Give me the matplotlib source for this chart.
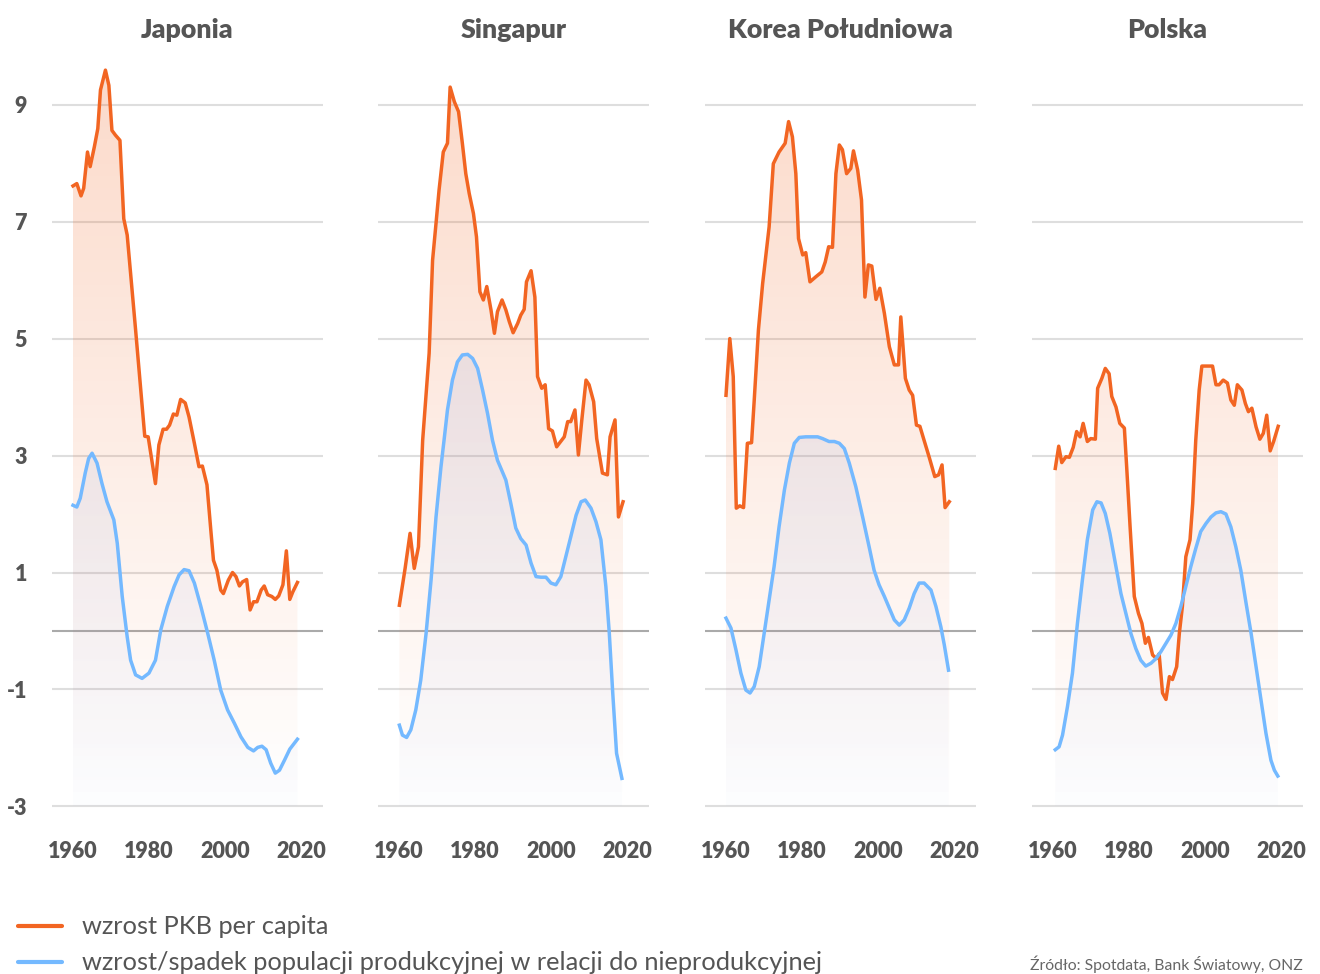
import numpy as np
import matplotlib.pyplot as plt
from matplotlib.lines import Line2D

plt.rcParams['font.family'] = ['Lato', 'DejaVu Sans']
plt.rcParams['axes.unicode_minus'] = False

# Data
countries = ['Japonia', 'Singapur', 'Korea Południowa', 'Polska']

jp_gdp_x = [1960.2, 1961.2, 1962.3, 1963.0, 1964.0, 1964.7, 1965.8, 1966.7, 1967.4, 1968.7,
            1969.6, 1970.4, 1971.3, 1972.5, 1973.5, 1974.4, 1976.6, 1979.0, 1979.9, 1981.8,
            1982.7, 1983.8, 1984.7, 1985.5, 1986.5, 1987.4, 1988.4, 1989.6, 1990.6, 1992.0,
            1993.2, 1994.1, 1995.3, 1996.3, 1997.0, 1997.9, 1998.9, 1999.6, 2000.9, 2002.0,
            2002.9, 2003.8, 2004.6, 2005.7, 2006.6, 2007.5, 2008.4, 2009.5, 2010.3, 2011.2,
            2012.3, 2013.2, 2014.1, 2015.2, 2016.1, 2017.0, 2017.8, 2019.0]
jp_gdp = [7.61, 7.65, 7.44, 7.57, 8.19, 7.94, 8.28, 8.59, 9.25, 9.59,
          9.33, 8.56, 8.48, 8.39, 7.05, 6.77, 5.15, 3.33, 3.32, 2.52,
          3.18, 3.45, 3.45, 3.52, 3.71, 3.69, 3.96, 3.90, 3.66, 3.21,
          2.81, 2.82, 2.50, 1.73, 1.21, 1.04, 0.70, 0.64, 0.87, 1.00,
          0.93, 0.77, 0.84, 0.88, 0.36, 0.50, 0.50, 0.70, 0.77, 0.62,
          0.59, 0.54, 0.60, 0.79, 1.37, 0.54, 0.67, 0.83]
jp_pop_x = [1960.2, 1961.2, 1962.1, 1963.4, 1964.3, 1965.2, 1966.5, 1967.8, 1969.1, 1970.9,
            1971.8, 1973.1, 1974.4, 1975.3, 1976.6, 1978.3, 1980.1, 1981.8, 1983.2, 1984.9,
            1986.7, 1988.0, 1989.3, 1990.6, 1992.0, 1993.7, 1995.5, 1997.2, 1998.9, 2000.7,
            2002.5, 2004.2, 2006.0, 2007.5, 2008.6, 2009.7, 2010.8, 2012.0, 2013.2, 2014.3,
            2015.6, 2017.0, 2019.0]
jp_pop = [2.15, 2.12, 2.27, 2.70, 2.95, 3.04, 2.87, 2.52, 2.21, 1.90,
          1.50, 0.59, -0.10, -0.50, -0.75, -0.81, -0.72, -0.50, 0.02, 0.42,
          0.76, 0.96, 1.05, 1.03, 0.82, 0.42, -0.04, -0.50, -1.01, -1.35,
          -1.58, -1.81, -1.99, -2.05, -1.99, -1.97, -2.03, -2.26, -2.43, -2.38,
          -2.21, -2.02, -1.85]

sg_gdp_x = [1960.3, 1961.8, 1963.1, 1964.2, 1965.3, 1966.4, 1968.1, 1969.0, 1969.9, 1970.7,
            1971.8, 1972.9, 1973.6, 1974.7, 1975.8, 1976.8, 1977.7, 1978.6, 1979.7, 1980.5,
            1981.4, 1982.3, 1983.2, 1984.3, 1985.2, 1986.0, 1987.2, 1988.2, 1989.1, 1990.1,
            1991.3, 1992.1, 1993.0, 1993.6, 1994.8, 1995.8, 1996.5, 1997.6, 1998.5, 1999.4,
            2000.4, 2001.5, 2003.5, 2004.4, 2005.2, 2006.3, 2007.2, 2008.1, 2009.2, 2010.0,
            2011.2, 2012.0, 2013.5, 2014.8, 2015.5, 2016.8, 2017.7, 2018.9]
sg_gdp = [0.44, 1.07, 1.67, 1.07, 1.44, 3.26, 4.75, 6.34, 6.97, 7.54,
          8.19, 8.34, 9.30, 9.05, 8.88, 8.34, 7.82, 7.48, 7.14, 6.74,
          5.80, 5.66, 5.89, 5.49, 5.09, 5.46, 5.66, 5.49, 5.29, 5.10,
          5.26, 5.40, 5.50, 5.97, 6.16, 5.71, 4.35, 4.15, 4.21, 3.46,
          3.42, 3.15, 3.32, 3.58, 3.58, 3.78, 3.01, 3.61, 4.29, 4.21,
          3.92, 3.29, 2.70, 2.67, 3.32, 3.61, 1.95, 2.21]
sg_pop_x = [1960.3, 1961.1, 1962.2, 1963.3, 1964.6, 1965.9, 1967.3, 1968.6, 1969.9, 1971.2,
            1972.0, 1972.9, 1974.2, 1975.5, 1976.8, 1978.2, 1979.5, 1980.8, 1982.1, 1983.4,
            1984.7, 1986.0, 1988.2, 1989.5, 1990.8, 1992.1, 1993.5, 1994.8, 1996.1, 1997.4,
            1998.7, 2000.0, 2001.3, 2002.6, 2003.9, 2005.2, 2006.6, 2007.9, 2009.0, 2010.5,
            2011.8, 2013.1, 2014.4, 2015.3, 2016.2, 2017.2, 2018.6]
sg_pop = [-1.61, -1.78, -1.82, -1.69, -1.35, -0.84, -0.04, 0.87, 1.95, 2.81,
          3.26, 3.78, 4.29, 4.60, 4.72, 4.73, 4.66, 4.49, 4.12, 3.72,
          3.26, 2.92, 2.58, 2.18, 1.76, 1.58, 1.47, 1.16, 0.93, 0.92,
          0.92, 0.82, 0.79, 0.93, 1.27, 1.61, 1.98, 2.21, 2.24, 2.10,
          1.87, 1.56, 0.76, -0.04, -1.06, -2.09, -2.52]

kr_gdp_x = [1960.2, 1961.2, 1962.1, 1962.9, 1963.8, 1964.8, 1965.8, 1966.9, 1967.6, 1968.7,
            1969.8, 1971.5, 1972.6, 1974.1, 1975.7, 1976.6, 1977.6, 1978.5, 1979.2, 1980.3,
            1981.1, 1982.2, 1983.8, 1985.3, 1986.2, 1987.1, 1988.1, 1989.0, 1989.9, 1990.7,
            1991.8, 1992.9, 1993.6, 1994.7, 1995.7, 1996.6, 1997.5, 1998.4, 1999.5, 2000.5,
            2001.7, 2003.0, 2004.3, 2005.4, 2006.0, 2007.2, 2008.2, 2009.1, 2010.1, 2011.0,
            2012.1, 2013.4, 2014.9, 2015.9, 2016.8, 2017.6, 2018.7]
kr_gdp = [4.03, 5.00, 4.35, 2.10, 2.14, 2.11, 3.21, 3.22, 3.95, 5.15,
          5.94, 6.91, 7.99, 8.19, 8.34, 8.71, 8.45, 7.82, 6.71, 6.43,
          6.47, 5.97, 6.06, 6.14, 6.31, 6.57, 6.56, 7.82, 8.31, 8.23,
          7.82, 7.91, 8.21, 7.88, 7.37, 5.71, 6.26, 6.24, 5.67, 5.86,
          5.43, 4.86, 4.55, 4.55, 5.37, 4.32, 4.12, 4.03, 3.52, 3.50,
          3.26, 2.98, 2.64, 2.67, 2.84, 2.11, 2.21]
kr_pop_x = [1960.2, 1961.5, 1962.8, 1964.1, 1965.4, 1966.5, 1967.6, 1968.9, 1970.2, 1971.5,
            1972.8, 1974.1, 1975.5, 1976.8, 1978.1, 1979.4, 1981.1, 1982.9, 1984.2, 1985.5,
            1987.2, 1988.6, 1989.9, 1991.2, 1992.5, 1994.2, 1996.0, 1997.7, 1999.0, 2000.3,
            2001.7, 2003.0, 2004.3, 2005.6, 2006.9, 2008.2, 2009.5, 2010.8, 2012.1, 2013.9,
            2015.2, 2016.5, 2017.4, 2018.5]
kr_pop = [0.22, 0.05, -0.32, -0.72, -1.01, -1.06, -0.95, -0.61, -0.04, 0.53,
          1.10, 1.78, 2.41, 2.87, 3.21, 3.31, 3.32, 3.32, 3.32, 3.29,
          3.24, 3.24, 3.21, 3.12, 2.87, 2.47, 1.95, 1.44, 1.04, 0.79,
          0.59, 0.39, 0.19, 0.10, 0.19, 0.39, 0.64, 0.82, 0.82, 0.70,
          0.42, 0.07, -0.24, -0.67]

pl_gdp_x = [1960.8, 1961.7, 1962.5, 1963.6, 1964.5, 1965.5, 1966.4, 1967.3, 1968.1, 1969.2,
            1970.1, 1971.3, 1971.9, 1973.0, 1973.9, 1974.9, 1975.6, 1976.7, 1977.7, 1978.9,
            1979.5, 1980.4, 1981.5, 1982.6, 1983.5, 1984.4, 1985.2, 1986.3, 1987.3, 1988.0,
            1988.9, 1989.8, 1990.7, 1991.5, 1992.6, 1993.3, 1994.1, 1995.0, 1996.1, 1996.8,
            1997.6, 1998.5, 1999.2, 2000.7, 2002.0, 2002.9, 2003.7, 2004.8, 2005.9, 2006.8,
            2007.7, 2008.5, 2009.7, 2010.6, 2011.4, 2012.3, 2013.4, 2014.4, 2015.3, 2016.2,
            2017.1, 2018.0, 2019.2]
pl_gdp = [2.78, 3.16, 2.88, 2.98, 2.97, 3.14, 3.41, 3.32, 3.55, 3.24,
          3.29, 3.28, 4.15, 4.32, 4.49, 4.40, 4.01, 3.83, 3.55, 3.47,
          2.81, 1.78, 0.59, 0.30, 0.13, -0.21, -0.11, -0.41, -0.47, -0.39,
          -1.06, -1.17, -0.78, -0.83, -0.61, -0.04, 0.42, 1.27, 1.56, 2.18,
          3.26, 4.12, 4.53, 4.53, 4.53, 4.21, 4.21, 4.29, 4.24, 3.95,
          3.86, 4.21, 4.12, 3.89, 3.75, 3.81, 3.49, 3.28, 3.38, 3.69,
          3.08, 3.24, 3.50]
pl_pop_x = [1960.8, 1961.8, 1962.7, 1964.0, 1965.3, 1966.6, 1967.9, 1969.2, 1970.6, 1971.7,
            1972.8, 1973.9, 1975.1, 1976.7, 1978.0, 1979.3, 1980.6, 1981.9, 1983.2, 1984.5,
            1985.9, 1987.2, 1988.5, 1989.8, 1991.1, 1992.4, 1993.7, 1995.0, 1996.3, 1997.6,
            1998.9, 2000.3, 2001.6, 2002.9, 2004.2, 2005.5, 2006.8, 2008.1, 2009.4, 2010.8,
            2012.1, 2013.4, 2014.7, 2016.0, 2017.3, 2018.2, 2019.1]
pl_pop = [-2.03, -1.98, -1.78, -1.29, -0.72, 0.13, 0.87, 1.56, 2.07, 2.21,
          2.19, 2.01, 1.67, 1.10, 0.64, 0.30, -0.04, -0.30, -0.50, -0.60,
          -0.55, -0.47, -0.35, -0.21, -0.07, 0.13, 0.42, 0.76, 1.10, 1.41,
          1.70, 1.84, 1.95, 2.02, 2.04, 2.00, 1.78, 1.44, 1.04, 0.47,
          -0.04, -0.61, -1.18, -1.75, -2.21, -2.38, -2.48]

gdp_x = [jp_gdp_x, sg_gdp_x, kr_gdp_x, pl_gdp_x]
gdp_y = [jp_gdp, sg_gdp, kr_gdp, pl_gdp]
pop_x = [jp_pop_x, sg_pop_x, kr_pop_x, pl_pop_x]
pop_y = [jp_pop, sg_pop, kr_pop, pl_pop]

y_ticks = [-3, -1, 1, 3, 5, 7, 9]
x_ticks = [1960, 1980, 2000, 2020]

orange = '#f26522'
blue = '#74b9ff'
text_col = '#555555'
y_min, y_max = -3.3, 9.9
fill_bottom = -3.0


def gradient_fill(ax, x, y, rgb, a_top, a_bot, z):
    poly = ax.fill_between(x, y, fill_bottom, facecolor='none', edgecolor='none')
    alpha = np.linspace(a_bot, a_top, 256)
    img = np.zeros((256, 1, 4))
    img[:, :, :3] = rgb
    img[:, 0, 3] = alpha
    im = ax.imshow(img, extent=[min(x), max(x), fill_bottom, 9.7], origin='lower',
                   aspect='auto', zorder=z, interpolation='bilinear')
    im.set_clip_path(poly.get_paths()[0], transform=ax.transData)


fig = plt.figure(figsize=(13.2, 9.74), dpi=100)
lefts = [52, 378, 705, 1032]

for i, name in enumerate(countries):
    ax = fig.add_axes([lefts[i] / 1320, 1 - 824 / 974, 271 / 1320, 772 / 974])
    ax.set_xlim(1954.7, 2025.7)
    ax.set_ylim(y_min, y_max)
    for v in y_ticks:
        ax.axhline(v, color='#dedede', lw=1.5, zorder=1)
    ax.axhline(0, color='#aaaaaa', lw=1.5, zorder=1)

    gradient_fill(ax, gdp_x[i], gdp_y[i], (0.949, 0.396, 0.133), 0.24, 0.0, 2)
    gradient_fill(ax, pop_x[i], pop_y[i], (0.50, 0.62, 0.90), 0.22, 0.02, 3)
    ax.plot(gdp_x[i], gdp_y[i], color=orange, lw=2.5, zorder=5, solid_joinstyle='round')
    ax.plot(pop_x[i], pop_y[i], color=blue, lw=2.5, zorder=5, solid_joinstyle='round')

    for s in ax.spines.values():
        s.set_visible(False)
    ax.set_xticks(x_ticks)
    ax.set_yticks(y_ticks)
    ax.tick_params(length=0, labelsize=15.5, labelcolor=text_col, pad=12)
    for lab in ax.get_xticklabels() + ax.get_yticklabels():
        lab.set_fontweight('heavy')
    if i > 0:
        ax.set_yticklabels([])
    else:
        ax.tick_params(axis='y', pad=18)
    ax.set_title(name, fontsize=19.3, fontweight='heavy', color=text_col, pad=10)

# legend drawn by hand at the bottom
legend_items = [(orange, 'wzrost PKB per capita', 926),
                (blue, 'wzrost/spadek populacji produkcyjnej w relacji do nieprodukcyjnej', 962)]
for col, label, ypx in legend_items:
    yf = 1 - ypx / 974
    fig.add_artist(Line2D([18 / 1320, 62 / 1320], [yf, yf], color=col, lw=3,
                          transform=fig.transFigure, solid_capstyle='round'))
    fig.text(82 / 1320, yf, label, ha='left', va='center', fontsize=18.3,
             color='#555555', fontweight='normal')

fig.text(1303 / 1320, 1 - 964 / 974, 'Źródło: Spotdata, Bank Światowy, ONZ', ha='right',
         va='center', fontsize=11.3, color='#666666')

fig.savefig('out.png', dpi=100)
